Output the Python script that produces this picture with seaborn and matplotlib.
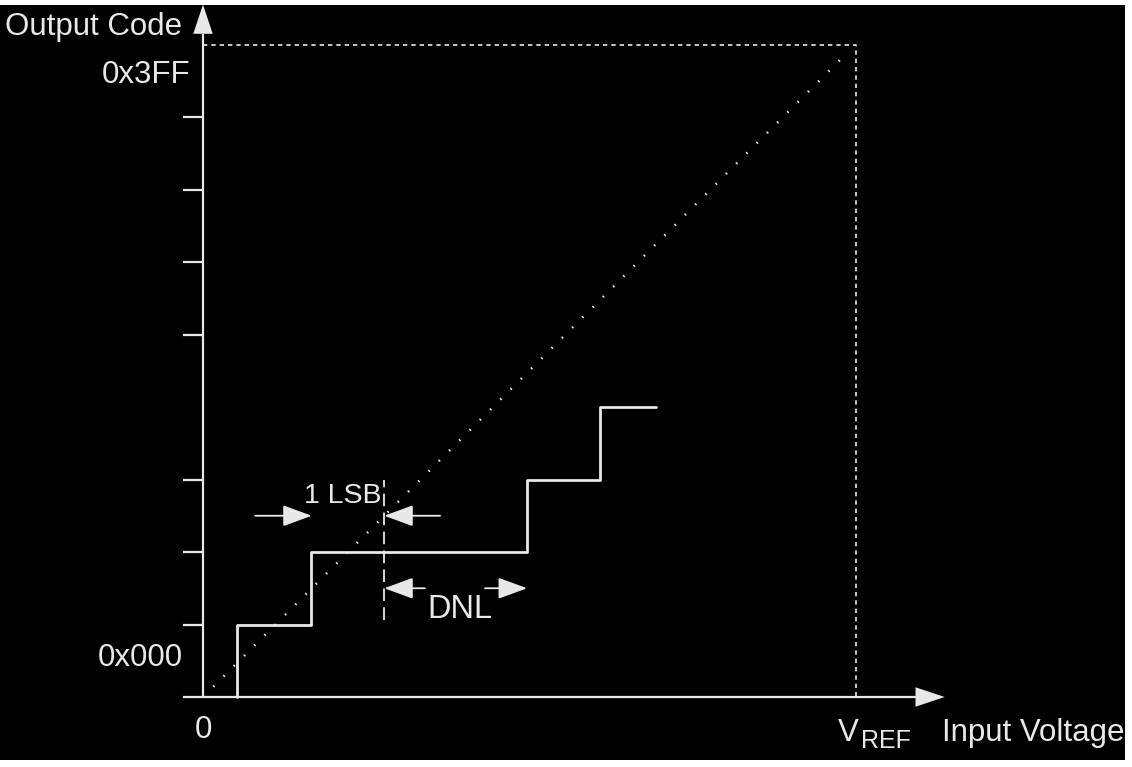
import matplotlib
matplotlib.use("Agg")
import matplotlib.pyplot as plt
import seaborn as sns
import pandas as pd

# --- Data (in LSB units) ---
# staircase: code transitions of the real ADC
step_x = [0.47, 0.47, 1.49, 4.47, 5.48, 6.25]
step_code = [0, 1, 2, 3, 4, 4]
# ideal transfer line
ideal_x = [0.0, 8.8]
ideal_y = [0.0, 8.8]
full_scale = 9          # 0x3FF / VREF box
y_ticks = [1, 2, 3, 5, 6, 7, 8]
ideal_edges = [1.5, 2.5]   # 1 LSB span
dnl_edges = [2.5, 4.47]    # DNL span

ink = "#e8e8e8"

sns.set_theme(style="dark")
plt.rcParams["font.family"] = ["Liberation Sans", "DejaVu Sans"]

fig = plt.figure(figsize=(11.32, 7.67), dpi=100, facecolor="white")
# black panel (small white margin at top/right/bottom)
ax = fig.add_axes([0, 7 / 767, 1125 / 1132, 755 / 767])
px = 72.5
ax.set_xlim(-203 / px, (1125 - 203) / px)
ax.set_ylim((697 - 760) / px, (697 - 5) / px)

# axes with arrows
ax.plot([0, 0], [0, 9.15], color=ink, lw=1.6, solid_capstyle="butt")
ax.plot([-0.28, 9.85], [0, 0], color=ink, lw=1.6, solid_capstyle="butt")
ax.annotate("", xy=(0, 9.55), xytext=(0, 9.0),
            arrowprops=dict(arrowstyle="-|>,head_length=1.5,head_width=0.5",
                            mutation_scale=14, color=ink, lw=0,
                            shrinkA=0, shrinkB=0))
ax.annotate("", xy=(10.23, 0), xytext=(9.7, 0),
            arrowprops=dict(arrowstyle="-|>,head_length=1.5,head_width=0.5",
                            mutation_scale=14, color=ink, lw=0,
                            shrinkA=0, shrinkB=0))
for t in y_ticks:
    ax.plot([-0.28, 0], [t, t], color=ink, lw=1.6, solid_capstyle="butt")

# dotted full-scale box
ax.plot([0, full_scale, full_scale], [full_scale, full_scale, 0],
        color=ink, lw=1.2, linestyle=(0, (2.6, 2.4)))

# ideal line (dotted)
ideal = pd.DataFrame({"x": ideal_x, "y": ideal_y})
sns.lineplot(data=ideal, x="x", y="y", ax=ax, color=ink, lw=1.8,
             linestyle=(0, (0.6, 5.2)), estimator=None, sort=False)

# real staircase
steps = pd.DataFrame({"x": step_x, "code": step_code})
sns.lineplot(data=steps, x="x", y="code", ax=ax, color=ink, lw=2.0,
             drawstyle="steps-post", estimator=None, sort=False)

# dashed marker at the ideal transition
ax.plot([ideal_edges[1], ideal_edges[1]], [1.06, 3.0], color=ink, lw=1.3,
        linestyle=(0, (7, 3.5)))

arrow = dict(arrowstyle="-|>,head_length=1.5,head_width=0.55", mutation_scale=12,
             color=ink, lw=1.3, shrinkA=0, shrinkB=0)
# 1 LSB arrows (pointing inward)
ax.annotate("", xy=(ideal_edges[0], 2.5), xytext=(0.72, 2.5), arrowprops=arrow)
ax.annotate("", xy=(ideal_edges[1], 2.5), xytext=(3.27, 2.5), arrowprops=arrow)
# DNL arrows (pointing outward)
ax.annotate("", xy=(dnl_edges[0], 1.5), xytext=(3.06, 1.5), arrowprops=arrow)
ax.annotate("", xy=(dnl_edges[1], 1.5), xytext=(3.89, 1.5), arrowprops=arrow)

fs = 22.5
ax.text(1.93, 2.77, "1 LSB", color=ink, fontsize=20.5, ha="center", va="center")
ax.text(3.54, 1.09, "DNL", color=ink, fontsize=fs + 1, ha="center", va="baseline")
ax.text(-2.73, 9.24, "Output Code", color=ink, fontsize=fs, ha="left", va="center")
ax.text(-0.18, 8.58, "0x3FF", color=ink, fontsize=fs, ha="right", va="center")
ax.text(-0.28, 0.54, "0x000", color=ink, fontsize=fs, ha="right", va="center")
ax.text(0.01, -0.455, "0", color=ink, fontsize=fs, ha="center", va="center")
ax.text(8.76, -0.50, "V", color=ink, fontsize=fs, ha="left", va="center")
ax.text(9.07, -0.60, "REF", color=ink, fontsize=fs - 4.5, ha="left", va="center")
ax.text(10.19, -0.50, "Input Voltage", color=ink, fontsize=fs, ha="left", va="center")

ax.set_xlabel("")
ax.set_ylabel("")
ax.set_xticks([])
ax.set_yticks([])
ax.grid(False)
ax.set_facecolor("black")
for s in ax.spines.values():
    s.set_visible(False)

fig.savefig("out.png", dpi=100, facecolor="white")
